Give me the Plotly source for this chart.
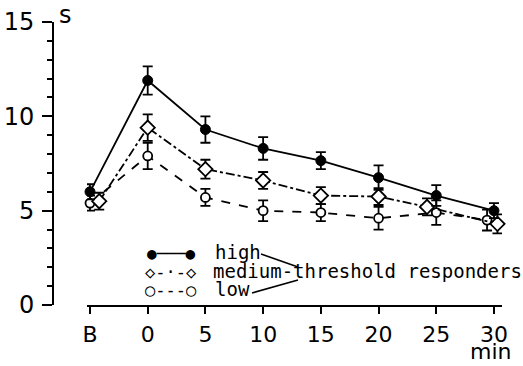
import plotly.graph_objects as go

# ---- data ----
categories = ["B", "0", "5", "10", "15", "20", "25", "30"]

high_values = [6.0, 11.9, 9.3, 8.3, 7.65, 6.75, 5.8, 5.0]
high_err = [0.4, 0.75, 0.7, 0.6, 0.45, 0.65, 0.55, 0.4]

medium_values = [5.5, 9.4, 7.2, 6.6, 5.8, 5.75, 5.2, 4.3]
medium_err = [0.45, 0.7, 0.5, 0.45, 0.45, 0.45, 0.45, 0.5]

low_values = [5.4, 7.9, 5.7, 5.0, 4.9, 4.6, 4.9, 4.5]
low_err = [0.4, 0.7, 0.45, 0.55, 0.45, 0.6, 0.65, 0.55]

# small horizontal displacement of overlapping symbols in the original
high_jitter = [0, 0, 0, 0, 0, 0, 0, 0]
medium_jitter = [0.16, 0, 0, 0, 0, 0, -0.16, 0.06]
low_jitter = [0, 0, 0, 0, 0, 0, 0, -0.12]

y_ticks = [0, 5, 10, 15]

# ---- layout geometry (pixels of the 523x366 window) ----
W, H = 523, 366
AX_LEFT, AX_RIGHT, AX_TOP, AX_BOTTOM = 53, 505, 22, 305  # plot area
L, T, R, B = AX_LEFT, AX_TOP, W - AX_RIGHT, H - AX_BOTTOM
PW, PH = AX_RIGHT - AX_LEFT, AX_BOTTOM - AX_TOP


def px(x):
    return (x - AX_LEFT) / PW


def py(y):
    return (AX_BOTTOM - y) / PH


idx = list(range(len(categories)))

fig = go.Figure()

series = [
    ("low", low_values, low_err, low_jitter, "dash",
     dict(symbol="circle", size=9, color="white", line=dict(color="black", width=1.8))),
    ("medium", medium_values, medium_err, medium_jitter, "dashdot",
     dict(symbol="diamond", size=11, color="white", line=dict(color="black", width=1.8))),
    ("high", high_values, high_err, high_jitter, "solid",
     dict(symbol="circle", size=10, color="black", line=dict(color="black", width=1))),
]

for name, vals, err, jit, dash, marker in series:
    fig.add_trace(go.Scatter(
        x=[i + j for i, j in zip(idx, jit)],
        y=vals,
        mode="lines+markers",
        name=name,
        line=dict(color="black", width=1.8, dash=dash),
        marker=marker,
        error_y=dict(type="data", array=err, color="black", thickness=1.8, width=5),
        showlegend=False,
        cliponaxis=False,
    ))

fig.update_layout(
    template="none",
    width=W, height=H,
    margin=dict(l=L, r=R, t=T, b=B, autoexpand=False),
    paper_bgcolor="white", plot_bgcolor="white",
    showlegend=False,
    font=dict(family="DejaVu Sans", color="black"),
    xaxis=dict(
        domain=[px(87), px(502)],
        range=[-0.052, 7.139],
        tickmode="array", tickvals=idx, ticktext=categories,
        showline=True, linecolor="black", linewidth=2,
        ticks="outside", ticklen=7, tickwidth=2, tickcolor="black",
        ticklabelstandoff=2,
        tickfont=dict(family="DejaVu Sans", size=22, color="black"),
        showgrid=False, zeroline=False, anchor="y", automargin=False,
    ),
    yaxis=dict(
        range=[0, 15],
        tickmode="array", tickvals=y_ticks,
        showline=True, linecolor="black", linewidth=2,
        ticks="outside", ticklen=10, tickwidth=2, tickcolor="black",
        ticklabelstandoff=3,
        tickfont=dict(family="DejaVu Sans", size=24, color="black"),
        minor=dict(dtick=1, ticks="outside", ticklen=5, tickwidth=2, tickcolor="black",
                   showgrid=False),
        showgrid=False, zeroline=False, anchor="free", position=0, automargin=False,
    ),
)

mono = "DejaVu Sans Mono"
annotations = [
    dict(text="s", x=px(57), y=py(15), xanchor="left", yanchor="middle",
         font=dict(family="DejaVu Sans", size=24)),
    dict(text="min", x=px(514), y=py(351), xanchor="right", yanchor="middle",
         font=dict(family="DejaVu Sans", size=22)),
    # legend keys
    dict(text="●───●", x=px(171), y=py(253), xanchor="center", yanchor="middle",
         font=dict(family=mono, size=16)),
    dict(text="◇-·-◇", x=px(171), y=py(272), xanchor="center", yanchor="middle",
         font=dict(family=mono, size=17)),
    dict(text="○---○", x=px(171), y=py(290), xanchor="center", yanchor="middle",
         font=dict(family=mono, size=17)),
    # legend texts
    dict(text="high", x=px(213), y=py(252), xanchor="left", yanchor="middle",
         font=dict(family=mono, size=19)),
    dict(text="medium-threshold responders", x=px(211), y=py(271), xanchor="left",
         yanchor="middle", font=dict(family=mono, size=19)),
    dict(text="low", x=px(213), y=py(289), xanchor="left", yanchor="middle",
         font=dict(family=mono, size=19)),
]
for a in annotations:
    a.update(xref="paper", yref="paper", showarrow=False)
fig.update_layout(annotations=annotations)

# bracket lines joining "high" and "low" to "threshold"
fig.update_layout(shapes=[
    dict(type="line", xref="paper", yref="paper", x0=px(261), y0=py(254), x1=px(298), y1=py(267),
         line=dict(color="black", width=1.6)),
    dict(type="line", xref="paper", yref="paper", x0=px(252), y0=py(293), x1=px(298), y1=py(280),
         line=dict(color="black", width=1.6)),
])

# remove the default 8px page margin so the figure fills the window exactly
fig.write_html("out.html", config={"staticPlot": True, "displayModeBar": False},
               post_script="document.body.style.margin='0';")
